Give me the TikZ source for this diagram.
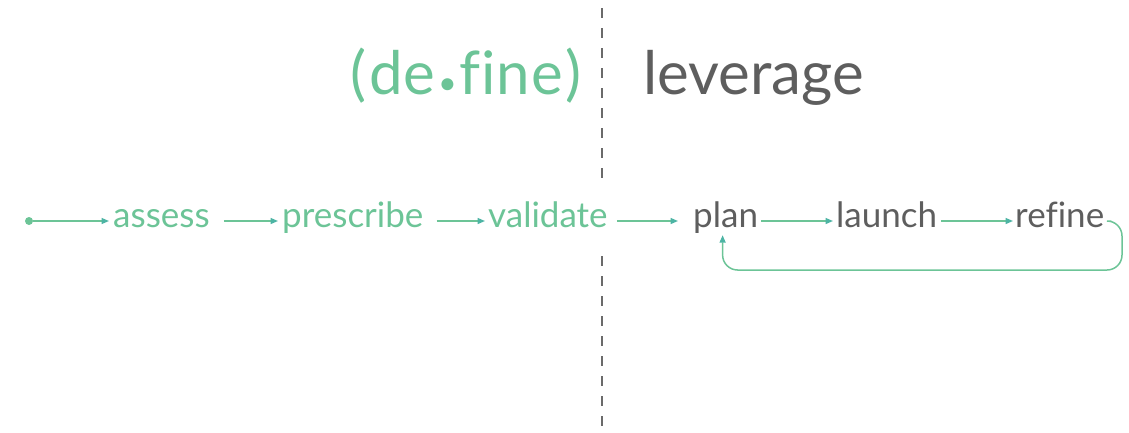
\documentclass[tikz,border=0pt]{standalone}
\usepackage{fontspec}
\setmainfont[Ligatures=NoCommon]{Lato}
\usetikzlibrary{arrows.meta}
\definecolor{grn}{HTML}{6CC497}
\definecolor{gry}{HTML}{5E5E5E}
\definecolor{dsh}{HTML}{6A6A6A}
\definecolor{tipc}{HTML}{4DB4A4}
\begin{document}
\begin{tikzpicture}[x=1pt,y=-1pt,
  lbl/.style={anchor=base west, inner sep=0pt, text height=20pt, text depth=8pt, font=\fontsize{35}{40}\selectfont},
  gtext/.style={lbl, text=grn},
  ktext/.style={lbl, text=gry},
  title/.style={anchor=base west, inner sep=0pt, font=\fontsize{60}{70}\selectfont},
  arr/.style={draw=grn, line width=1.5pt, -{Triangle[length=7.5pt,width=6pt,color=tipc]}},
  sep/.style={draw=dsh, line width=2pt, dash pattern=on 10pt off 10pt}]
\useasboundingbox (0,0) rectangle (1129,432);
% titles
\node[title, text=grn] (define) at (350,94) {(\kern3pt d\kern1pt e\kern1.5pt\raisebox{-14pt}{\fontsize{80}{80}\selectfont ·}\kern1.5pt f\kern1pt i\kern1pt n\kern1pt e\kern3pt)};
\node[title, text=gry] (leverage) at (643,94) {leverage};
% separator
\coordinate (d1) at (602,8);
\coordinate (d2) at (602,184);
\coordinate (d3) at (602,256);
\coordinate (d4) at (602,432);
\draw[sep] (d1) -- (d2);
\draw[sep] (d3) -- (d4);
% row
\node[circle, fill=grn, inner sep=0pt, minimum size=8pt] (start) at (29,221) {};
\node[gtext] (assess) at (113,227) {assess};
\node[gtext] (prescribe) at (282,227) {prescribe};
\node[gtext] (validate) at (488,227) {validate};
\node[ktext] (plan) at (693,227) {plan};
\node[ktext] (launch) at (836,227) {launch};
\node[ktext] (refine) at (1015,227) {refine};
\draw[arr, shorten >=4pt] (start) -- (assess.west);
\draw[arr, shorten <=14pt, shorten >=4pt] (assess.east) -- (prescribe.west);
\draw[arr, shorten <=13pt, shorten >=3pt] (prescribe.east) -- (validate.west);
\draw[arr, shorten <=9pt, shorten >=15pt] (validate.east) -- (plan.west);
\draw[arr, shorten <=3pt, shorten >=3pt] (plan.east) -- (launch.west);
\draw[arr, shorten <=4pt, shorten >=2pt] (launch.east) -- (refine.west);
\coordinate (loopR) at (1122,270);
\draw[arr, rounded corners=15pt] ([xshift=7pt]refine.east) -| (loopR) -| ([xshift=-3pt]plan.south);
\end{tikzpicture}
\end{document}
